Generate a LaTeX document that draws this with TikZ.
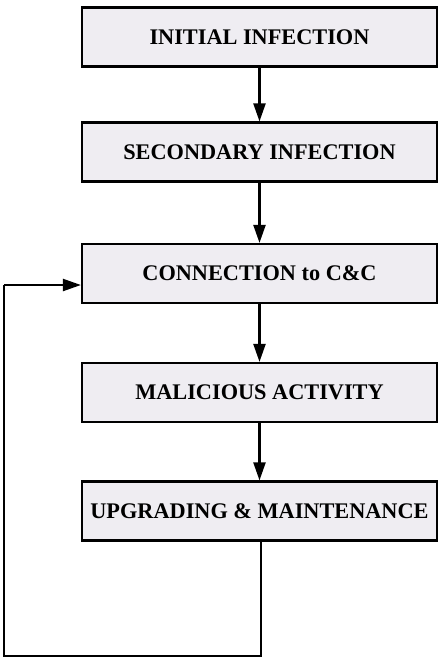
\documentclass[tikz,border=0pt]{standalone}
\usepackage{fontspec}
\setmainfont{Liberation Serif}
\usetikzlibrary{arrows.meta}
\definecolor{boxfill}{HTML}{EFEDF2}
\begin{document}
\begin{tikzpicture}[x=1pt,y=-1pt,
  stagebox/.style={draw, line width=2.2pt, fill=boxfill, minimum width=355pt, minimum height=59pt,
    inner sep=0pt, font=\fontsize{22.3}{26}\selectfont\bfseries},
  flow/.style={line width=2.2pt, -{Triangle[length=18pt,width=12pt]}},
  plain/.style={line width=2.2pt}]
\useasboundingbox (0,0) rectangle (439,657);
\node[stagebox] (b1) at (259.5,37) {INITIAL INFECTION};
\node[stagebox] (b2) at (259.5,152) {SECONDARY INFECTION};
\node[stagebox] (b3) at (259.5,273.5) {CONNECTION to C\&C};
\node[stagebox] (b4) at (259.5,392.5) {MALICIOUS ACTIVITY};
\node[stagebox] (b5) at (259.5,511) {UPGRADING \& MAINTENANCE};
\draw[flow] (b1) -- (b2);
\draw[flow] (b2) -- (b3);
\draw[flow] (b3) -- (b4);
\draw[flow] (b4) -- (b5);
\coordinate (c1) at (261,656.5);
\coordinate (c2) at (4,656.5);
\coordinate (c3) at (4,285);
\draw[plain] ([xshift=1.5pt]b5.south) -- (c1) -- (c2) -- (c3);
\draw[flow] (c3) -- (b3.west |- c3);
\end{tikzpicture}
\end{document}
